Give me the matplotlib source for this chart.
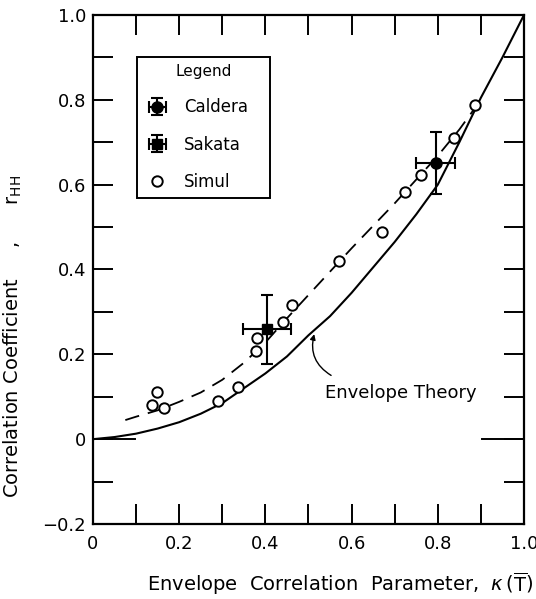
import matplotlib
matplotlib.use("Agg")
import matplotlib.pyplot as plt
from matplotlib.ticker import MultipleLocator, FuncFormatter

# envelope theory curve (solid)
theory_x = [0, 0.05, 0.1, 0.15, 0.2, 0.25, 0.3, 0.35, 0.4, 0.45, 0.5,
            0.55, 0.6, 0.65, 0.7, 0.75, 0.8, 0.85, 0.9, 0.95, 1.0]
theory_y = [0, 0.005, 0.013, 0.025, 0.04, 0.06, 0.085, 0.12, 0.155, 0.195, 0.245,
            0.29, 0.345, 0.405, 0.465, 0.53, 0.6, 0.7, 0.805, 0.9, 1.0]

# dashed fit through the simulation points
fit_x = [0.075, 0.1, 0.15, 0.2, 0.25, 0.3, 0.35, 0.4, 0.45, 0.5,
         0.55, 0.6, 0.65, 0.7, 0.75, 0.8, 0.85, 0.9]
fit_y = [0.045, 0.053, 0.068, 0.088, 0.11, 0.14, 0.18, 0.228, 0.285, 0.34,
         0.395, 0.45, 0.503, 0.556, 0.612, 0.668, 0.73, 0.8]

# simulation points (open circles)
simul_x = [0.136, 0.148, 0.165, 0.291, 0.336, 0.378, 0.38, 0.442, 0.461,
           0.571, 0.671, 0.724, 0.761, 0.838, 0.886]
simul_y = [0.081, 0.112, 0.074, 0.091, 0.122, 0.208, 0.238, 0.277, 0.316,
           0.419, 0.489, 0.582, 0.623, 0.711, 0.787]

# measured points with error bars
caldera_x, caldera_y = [0.795], [0.651]
caldera_xerr, caldera_yerr = [0.045], [0.074]
sakata_x, sakata_y = [0.404], [0.259]
sakata_xerr, sakata_yerr = [0.056], [0.082]

fig = plt.figure(figsize=(5.36, 5.99), dpi=100)
ax = fig.add_axes([0.1735, 0.1252, 0.8041, 0.8498])

ax.plot(theory_x, theory_y, color="black", lw=1.5)
ax.plot(fit_x, fit_y, color="black", lw=1.3, dashes=(8, 5))

h_cal = ax.errorbar(caldera_x, caldera_y, xerr=caldera_xerr, yerr=caldera_yerr,
                    fmt="o", color="black", ms=8, elinewidth=1.5, capsize=4,
                    capthick=1.5, label="Caldera")
h_sak = ax.errorbar(sakata_x, sakata_y, xerr=sakata_xerr, yerr=sakata_yerr,
                    fmt="s", color="black", ms=6.5, elinewidth=1.5, capsize=4,
                    capthick=1.5, label="Sakata")
h_sim, = ax.plot(simul_x, simul_y, "o", mfc="white", mec="black", mew=1.4,
                 ms=7.5, ls="none", label="Simul")

ax.annotate("", xy=(0.515, 0.254), xytext=(0.558, 0.147),
            arrowprops=dict(arrowstyle="-|>", color="black", lw=1.0,
                            mutation_scale=8,
                            connectionstyle="arc3,rad=-0.4"))
ax.text(0.538, 0.109, "Envelope Theory", fontsize=13, ha="left", va="center")

ax.set_xlim(0, 1.0)
ax.set_ylim(-0.2, 1.0)
ax.xaxis.set_major_locator(MultipleLocator(0.2))
ax.xaxis.set_minor_locator(MultipleLocator(0.1))
ax.yaxis.set_major_locator(MultipleLocator(0.2))
ax.yaxis.set_minor_locator(MultipleLocator(0.1))

def fmt(v, pos):
    if abs(v) < 1e-9:
        return "0"
    return f"{v:.1f}".replace("-", "\u2212")

ax.xaxis.set_major_formatter(FuncFormatter(fmt))
ax.yaxis.set_major_formatter(FuncFormatter(fmt))

ax.tick_params(which="both", direction="in", length=14.4, width=1.4,
               top=True, right=True, labelsize=13)
ax.tick_params(axis="x", pad=8)
ax.tick_params(axis="y", pad=5)
for sp in ax.spines.values():
    sp.set_linewidth(1.6)

# the zero tick is drawn longer on both sides
ax.axhline(0, xmin=0, xmax=0.097, color="black", lw=1.4)
ax.axhline(0, xmin=0.903, xmax=1, color="black", lw=1.4)

ax.set_xlabel(r"Envelope  Correlation  Parameter,  $\kappa\,(\overline{\mathrm{T}})$",
              fontsize=14)
ax.xaxis.set_label_coords(0.573, -0.091)
ax.set_ylabel("Correlation Coefficient     ,      r$_{\\mathrm{HH}}$", fontsize=14)
ax.yaxis.set_label_coords(-0.160, 0.369)

leg = ax.legend([h_cal, h_sak, h_sim], ["Caldera", "Sakata", "Simul"],
                title="Legend", loc="upper left",
                bbox_to_anchor=(0.101, 0.643, 0.31, 0.275), mode="expand",
                borderaxespad=0, fontsize=12, title_fontsize=11,
                fancybox=False, edgecolor="black", framealpha=1,
                handlelength=1.6, labelspacing=1.15, borderpad=0.45)
leg.get_frame().set_linewidth(1.4)

fig.savefig("out.png", dpi=100)
